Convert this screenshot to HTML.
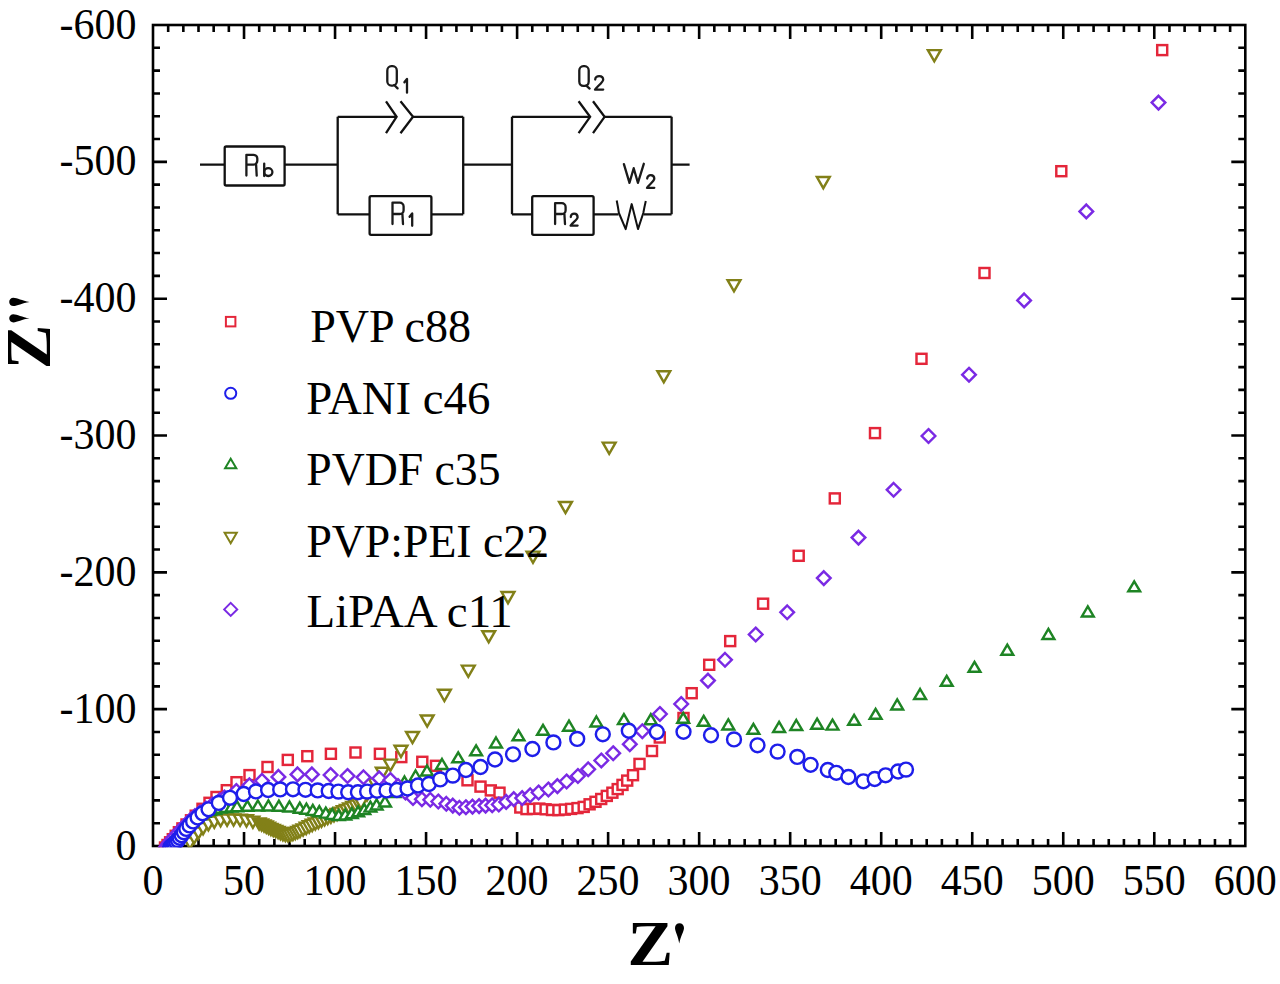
<!DOCTYPE html>
<html><head><meta charset="utf-8"><style>
html,body{margin:0;padding:0;background:#fff;}
svg{display:block;}
</style></head><body>
<svg width="1280" height="984" viewBox="0 0 1280 984">
<rect width="1280" height="984" fill="#fff"/>
<defs><clipPath id="pc"><rect x="151.7" y="23.71999999999998" width="1094.8999999999999" height="823.58"/></clipPath></defs>
<rect x="153.0" y="25.0" width="1092.3" height="821.0" fill="none" stroke="#000" stroke-width="2.6"/><path d="M168.17 846.00v-7.0M168.17 25.02v7.0M183.34 846.00v-7.0M183.34 25.02v7.0M198.51 846.00v-7.0M198.51 25.02v7.0M213.68 846.00v-7.0M213.68 25.02v7.0M228.85 846.00v-7.0M228.85 25.02v7.0M244.03 846.00v-14.0M244.03 25.02v14.0M259.20 846.00v-7.0M259.20 25.02v7.0M274.37 846.00v-7.0M274.37 25.02v7.0M289.54 846.00v-7.0M289.54 25.02v7.0M304.71 846.00v-7.0M304.71 25.02v7.0M319.88 846.00v-7.0M319.88 25.02v7.0M335.05 846.00v-14.0M335.05 25.02v14.0M350.22 846.00v-7.0M350.22 25.02v7.0M365.39 846.00v-7.0M365.39 25.02v7.0M380.56 846.00v-7.0M380.56 25.02v7.0M395.73 846.00v-7.0M395.73 25.02v7.0M410.90 846.00v-7.0M410.90 25.02v7.0M426.07 846.00v-14.0M426.07 25.02v14.0M441.25 846.00v-7.0M441.25 25.02v7.0M456.42 846.00v-7.0M456.42 25.02v7.0M471.59 846.00v-7.0M471.59 25.02v7.0M486.76 846.00v-7.0M486.76 25.02v7.0M501.93 846.00v-7.0M501.93 25.02v7.0M517.10 846.00v-14.0M517.10 25.02v14.0M532.27 846.00v-7.0M532.27 25.02v7.0M547.44 846.00v-7.0M547.44 25.02v7.0M562.61 846.00v-7.0M562.61 25.02v7.0M577.78 846.00v-7.0M577.78 25.02v7.0M592.95 846.00v-7.0M592.95 25.02v7.0M608.12 846.00v-14.0M608.12 25.02v14.0M623.30 846.00v-7.0M623.30 25.02v7.0M638.47 846.00v-7.0M638.47 25.02v7.0M653.64 846.00v-7.0M653.64 25.02v7.0M668.81 846.00v-7.0M668.81 25.02v7.0M683.98 846.00v-7.0M683.98 25.02v7.0M699.15 846.00v-14.0M699.15 25.02v14.0M714.32 846.00v-7.0M714.32 25.02v7.0M729.49 846.00v-7.0M729.49 25.02v7.0M744.66 846.00v-7.0M744.66 25.02v7.0M759.83 846.00v-7.0M759.83 25.02v7.0M775.00 846.00v-7.0M775.00 25.02v7.0M790.17 846.00v-14.0M790.17 25.02v14.0M805.35 846.00v-7.0M805.35 25.02v7.0M820.52 846.00v-7.0M820.52 25.02v7.0M835.69 846.00v-7.0M835.69 25.02v7.0M850.86 846.00v-7.0M850.86 25.02v7.0M866.03 846.00v-7.0M866.03 25.02v7.0M881.20 846.00v-14.0M881.20 25.02v14.0M896.37 846.00v-7.0M896.37 25.02v7.0M911.54 846.00v-7.0M911.54 25.02v7.0M926.71 846.00v-7.0M926.71 25.02v7.0M941.88 846.00v-7.0M941.88 25.02v7.0M957.05 846.00v-7.0M957.05 25.02v7.0M972.23 846.00v-14.0M972.23 25.02v14.0M987.40 846.00v-7.0M987.40 25.02v7.0M1002.57 846.00v-7.0M1002.57 25.02v7.0M1017.74 846.00v-7.0M1017.74 25.02v7.0M1032.91 846.00v-7.0M1032.91 25.02v7.0M1048.08 846.00v-7.0M1048.08 25.02v7.0M1063.25 846.00v-14.0M1063.25 25.02v14.0M1078.42 846.00v-7.0M1078.42 25.02v7.0M1093.59 846.00v-7.0M1093.59 25.02v7.0M1108.76 846.00v-7.0M1108.76 25.02v7.0M1123.93 846.00v-7.0M1123.93 25.02v7.0M1139.10 846.00v-7.0M1139.10 25.02v7.0M1154.28 846.00v-14.0M1154.28 25.02v14.0M1169.45 846.00v-7.0M1169.45 25.02v7.0M1184.62 846.00v-7.0M1184.62 25.02v7.0M1199.79 846.00v-7.0M1199.79 25.02v7.0M1214.96 846.00v-7.0M1214.96 25.02v7.0M1230.13 846.00v-7.0M1230.13 25.02v7.0M153.00 823.20h7.0M1245.30 823.20h-7.0M153.00 800.39h7.0M1245.30 800.39h-7.0M153.00 777.59h7.0M1245.30 777.59h-7.0M153.00 754.78h7.0M1245.30 754.78h-7.0M153.00 731.98h7.0M1245.30 731.98h-7.0M153.00 709.17h14.0M1245.30 709.17h-14.0M153.00 686.37h7.0M1245.30 686.37h-7.0M153.00 663.56h7.0M1245.30 663.56h-7.0M153.00 640.75h7.0M1245.30 640.75h-7.0M153.00 617.95h7.0M1245.30 617.95h-7.0M153.00 595.14h7.0M1245.30 595.14h-7.0M153.00 572.34h14.0M1245.30 572.34h-14.0M153.00 549.54h7.0M1245.30 549.54h-7.0M153.00 526.73h7.0M1245.30 526.73h-7.0M153.00 503.92h7.0M1245.30 503.92h-7.0M153.00 481.12h7.0M1245.30 481.12h-7.0M153.00 458.31h7.0M1245.30 458.31h-7.0M153.00 435.51h14.0M1245.30 435.51h-14.0M153.00 412.70h7.0M1245.30 412.70h-7.0M153.00 389.90h7.0M1245.30 389.90h-7.0M153.00 367.09h7.0M1245.30 367.09h-7.0M153.00 344.29h7.0M1245.30 344.29h-7.0M153.00 321.49h7.0M1245.30 321.49h-7.0M153.00 298.68h14.0M1245.30 298.68h-14.0M153.00 275.88h7.0M1245.30 275.88h-7.0M153.00 253.07h7.0M1245.30 253.07h-7.0M153.00 230.26h7.0M1245.30 230.26h-7.0M153.00 207.46h7.0M1245.30 207.46h-7.0M153.00 184.65h7.0M1245.30 184.65h-7.0M153.00 161.85h14.0M1245.30 161.85h-14.0M153.00 139.04h7.0M1245.30 139.04h-7.0M153.00 116.24h7.0M1245.30 116.24h-7.0M153.00 93.43h7.0M1245.30 93.43h-7.0M153.00 70.63h7.0M1245.30 70.63h-7.0M153.00 47.82h7.0M1245.30 47.82h-7.0" stroke="#000" stroke-width="2.6" fill="none"/>
<g clip-path="url(#pc)">
<g fill="#fff" stroke="#e4263a" stroke-width="2.45" stroke-linejoin="miter"><rect x="160.0" y="842.5" width="10.0" height="10.0"/><rect x="162.5" y="840.0" width="10.0" height="10.0"/><rect x="165.1" y="837.3" width="10.0" height="10.0"/><rect x="167.8" y="834.2" width="10.0" height="10.0"/><rect x="170.7" y="830.8" width="10.0" height="10.0"/><rect x="173.9" y="827.2" width="10.0" height="10.0"/><rect x="177.4" y="823.4" width="10.0" height="10.0"/><rect x="181.5" y="819.5" width="10.0" height="10.0"/><rect x="186.0" y="815.3" width="10.0" height="10.0"/><rect x="190.7" y="810.7" width="10.0" height="10.0"/><rect x="197.5" y="803.8" width="10.0" height="10.0"/><rect x="204.5" y="797.8" width="10.0" height="10.0"/><rect x="211.5" y="792.0" width="10.0" height="10.0"/><rect x="221.8" y="785.2" width="10.0" height="10.0"/><rect x="231.5" y="777.2" width="10.0" height="10.0"/><rect x="244.5" y="770.1" width="10.0" height="10.0"/><rect x="262.5" y="762.0" width="10.0" height="10.0"/><rect x="282.8" y="754.9" width="10.0" height="10.0"/><rect x="302.3" y="751.2" width="10.0" height="10.0"/><rect x="325.9" y="748.8" width="10.0" height="10.0"/><rect x="350.5" y="747.5" width="10.0" height="10.0"/><rect x="374.9" y="748.8" width="10.0" height="10.0"/><rect x="396.3" y="752.1" width="10.0" height="10.0"/><rect x="417.3" y="756.8" width="10.0" height="10.0"/><rect x="431.0" y="760.8" width="10.0" height="10.0"/><rect x="462.5" y="775.3" width="10.0" height="10.0"/><rect x="475.5" y="781.6" width="10.0" height="10.0"/><rect x="485.8" y="785.4" width="10.0" height="10.0"/><rect x="494.5" y="787.7" width="10.0" height="10.0"/><rect x="515.3" y="802.5" width="10.0" height="10.0"/><rect x="521.5" y="804.1" width="10.0" height="10.0"/><rect x="527.9" y="803.9" width="10.0" height="10.0"/><rect x="534.3" y="803.6" width="10.0" height="10.0"/><rect x="540.6" y="804.3" width="10.0" height="10.0"/><rect x="547.0" y="805.0" width="10.0" height="10.0"/><rect x="553.4" y="805.1" width="10.0" height="10.0"/><rect x="559.8" y="804.6" width="10.0" height="10.0"/><rect x="566.1" y="803.9" width="10.0" height="10.0"/><rect x="572.5" y="803.1" width="10.0" height="10.0"/><rect x="578.7" y="801.9" width="10.0" height="10.0"/><rect x="584.6" y="799.3" width="10.0" height="10.0"/><rect x="590.5" y="796.8" width="10.0" height="10.0"/><rect x="596.2" y="794.0" width="10.0" height="10.0"/><rect x="601.8" y="790.9" width="10.0" height="10.0"/><rect x="607.4" y="787.7" width="10.0" height="10.0"/><rect x="612.7" y="784.1" width="10.0" height="10.0"/><rect x="617.5" y="779.9" width="10.0" height="10.0"/><rect x="622.2" y="775.6" width="10.0" height="10.0"/><rect x="628.0" y="770.2" width="10.0" height="10.0"/><rect x="634.5" y="758.9" width="10.0" height="10.0"/><rect x="647.0" y="746.0" width="10.0" height="10.0"/><rect x="654.8" y="732.5" width="10.0" height="10.0"/><rect x="678.5" y="713.0" width="10.0" height="10.0"/><rect x="686.7" y="688.2" width="10.0" height="10.0"/><rect x="704.2" y="659.8" width="10.0" height="10.0"/><rect x="725.2" y="636.1" width="10.0" height="10.0"/><rect x="758.1" y="598.7" width="10.0" height="10.0"/><rect x="793.7" y="550.8" width="10.0" height="10.0"/><rect x="829.8" y="493.4" width="10.0" height="10.0"/><rect x="870.0" y="428.1" width="10.0" height="10.0"/><rect x="916.5" y="353.8" width="10.0" height="10.0"/><rect x="979.5" y="268.0" width="10.0" height="10.0"/><rect x="1056.3" y="166.2" width="10.0" height="10.0"/><rect x="1157.2" y="45.1" width="10.0" height="10.0"/></g>
<g fill="#fff" stroke="#828018" stroke-width="2.45" stroke-linejoin="miter"><path d="M183.6 837.4L196.4 837.4L190.0 848.6Z"/><path d="M187.7 832.3L200.5 832.3L194.1 843.5Z"/><path d="M192.0 827.5L204.8 827.5L198.4 838.7Z"/><path d="M196.7 823.0L209.5 823.0L203.1 834.2Z"/><path d="M202.0 819.2L214.8 819.2L208.4 830.4Z"/><path d="M207.9 816.6L220.7 816.6L214.3 827.8Z"/><path d="M214.2 815.1L227.0 815.1L220.6 826.3Z"/><path d="M220.7 814.5L233.5 814.5L227.1 825.7Z"/><path d="M227.2 814.4L240.0 814.4L233.6 825.6Z"/><path d="M233.7 814.7L246.5 814.7L240.1 825.9Z"/><path d="M240.1 815.3L252.9 815.3L246.5 826.5Z"/><path d="M246.5 816.6L259.3 816.6L252.9 827.8Z"/><path d="M252.7 818.4L265.5 818.4L259.1 829.6Z"/><path d="M255.2 819.4L268.0 819.4L261.6 830.6Z"/><path d="M257.6 820.4L270.4 820.4L264.0 831.6Z"/><path d="M259.9 821.5L272.7 821.5L266.3 832.7Z"/><path d="M262.2 822.7L275.0 822.7L268.6 833.9Z"/><path d="M264.5 823.9L277.3 823.9L270.9 835.1Z"/><path d="M266.9 824.9L279.7 824.9L273.3 836.1Z"/><path d="M269.3 825.9L282.1 825.9L275.7 837.1Z"/><path d="M271.7 826.9L284.5 826.9L278.1 838.1Z"/><path d="M274.1 828.0L286.9 828.0L280.5 839.2Z"/><path d="M276.5 829.0L289.3 829.0L282.9 840.2Z"/><path d="M279.0 829.8L291.8 829.8L285.4 841.0Z"/><path d="M281.5 830.2L294.3 830.2L287.9 841.4Z"/><path d="M284.1 829.9L296.9 829.9L290.5 841.1Z"/><path d="M286.5 828.9L299.3 828.9L292.9 840.1Z"/><path d="M288.9 827.9L301.7 827.9L295.3 839.1Z"/><path d="M291.3 826.9L304.1 826.9L297.7 838.1Z"/><path d="M293.6 825.8L306.4 825.8L300.0 837.0Z"/><path d="M296.7 824.4L309.5 824.4L303.1 835.6Z"/><path d="M299.8 822.8L312.6 822.8L306.2 834.0Z"/><path d="M302.8 821.3L315.6 821.3L309.2 832.5Z"/><path d="M305.8 819.8L318.6 819.8L312.2 831.0Z"/><path d="M308.9 818.4L321.7 818.4L315.3 829.6Z"/><path d="M312.0 817.0L324.8 817.0L318.4 828.2Z"/><path d="M315.1 815.6L327.9 815.6L321.5 826.8Z"/><path d="M318.2 814.2L331.0 814.2L324.6 825.4Z"/><path d="M321.3 812.8L334.1 812.8L327.7 824.0Z"/><path d="M324.5 811.5L337.3 811.5L330.9 822.7Z"/><path d="M327.6 810.1L340.4 810.1L334.0 821.3Z"/><path d="M330.7 808.9L343.5 808.9L337.1 820.1Z"/><path d="M333.9 807.6L346.7 807.6L340.3 818.8Z"/><path d="M337.0 806.2L349.8 806.2L343.4 817.4Z"/><path d="M340.1 804.9L352.9 804.9L346.5 816.1Z"/><path d="M343.2 803.5L356.0 803.5L349.6 814.7Z"/><path d="M346.3 802.0L359.1 802.0L352.7 813.2Z"/><path d="M349.3 800.5L362.1 800.5L355.7 811.7Z"/><path d="M352.3 798.8L365.1 798.8L358.7 810.0Z"/><path d="M354.6 797.4L367.4 797.4L361.0 808.6Z"/><path d="M360.6 789.4L373.4 789.4L367.0 800.6Z"/><path d="M368.6 778.4L381.4 778.4L375.0 789.6Z"/><path d="M375.9 767.7L388.7 767.7L382.3 778.9Z"/><path d="M384.0 759.6L396.8 759.6L390.4 770.8Z"/><path d="M394.6 745.8L407.4 745.8L401.0 757.0Z"/><path d="M406.1 731.9L418.9 731.9L412.5 743.1Z"/><path d="M420.8 715.4L433.6 715.4L427.2 726.6Z"/><path d="M438.0 689.8L450.8 689.8L444.4 701.0Z"/><path d="M461.9 665.6L474.7 665.6L468.3 676.8Z"/><path d="M482.3 631.2L495.1 631.2L488.7 642.4Z"/><path d="M501.6 592.0L514.4 592.0L508.0 603.2Z"/><path d="M526.6 551.6L539.4 551.6L533.0 562.8Z"/><path d="M559.1 501.9L571.9 501.9L565.5 513.1Z"/><path d="M602.8 442.6L615.6 442.6L609.2 453.8Z"/><path d="M657.4 371.2L670.2 371.2L663.8 382.4Z"/><path d="M727.6 280.1L740.4 280.1L734.0 291.3Z"/><path d="M816.9 177.0L829.7 177.0L823.3 188.2Z"/><path d="M927.9 50.1L940.7 50.1L934.3 61.3Z"/></g>
<g fill="#fff" stroke="#1e8424" stroke-width="2.45" stroke-linejoin="miter"><path d="M170.0 841.5L175.9 851.5L164.1 851.5Z"/><path d="M173.4 837.2L179.3 847.2L167.5 847.2Z"/><path d="M176.9 832.9L182.8 842.9L171.0 842.9Z"/><path d="M180.4 828.7L186.3 838.7L174.5 838.7Z"/><path d="M183.9 824.4L189.8 834.4L178.0 834.4Z"/><path d="M187.4 820.2L193.3 830.2L181.5 830.2Z"/><path d="M191.3 816.3L197.2 826.3L185.4 826.3Z"/><path d="M195.3 812.5L201.2 822.5L189.4 822.5Z"/><path d="M199.7 809.2L205.6 819.2L193.8 819.2Z"/><path d="M204.6 806.8L210.5 816.8L198.7 816.8Z"/><path d="M209.8 805.1L215.7 815.1L203.9 815.1Z"/><path d="M215.1 803.7L221.0 813.7L209.2 813.7Z"/><path d="M220.5 802.6L226.4 812.6L214.6 812.6Z"/><path d="M226.0 801.9L231.9 811.9L220.1 811.9Z"/><path d="M231.5 801.5L237.4 811.5L225.6 811.5Z"/><path d="M237.0 801.2L242.9 811.2L231.1 811.2Z"/><path d="M247.4 800.8L253.3 810.8L241.5 810.8Z"/><path d="M257.9 800.5L263.8 810.5L252.0 810.5Z"/><path d="M268.4 800.4L274.3 810.4L262.5 810.4Z"/><path d="M278.9 800.7L284.8 810.7L273.0 810.7Z"/><path d="M289.4 801.4L295.3 811.4L283.5 811.4Z"/><path d="M299.8 802.7L305.7 812.7L293.9 812.7Z"/><path d="M306.4 803.7L312.3 813.7L300.5 813.7Z"/><path d="M312.8 804.9L318.7 814.9L306.9 814.9Z"/><path d="M319.3 806.2L325.2 816.2L313.4 816.2Z"/><path d="M325.8 807.6L331.7 817.6L319.9 817.6Z"/><path d="M332.2 808.9L338.1 818.9L326.3 818.9Z"/><path d="M338.7 810.0L344.6 820.0L332.8 820.0Z"/><path d="M345.3 809.5L351.2 819.5L339.4 819.5Z"/><path d="M351.8 808.1L357.7 818.1L345.9 818.1Z"/><path d="M358.1 806.3L364.0 816.3L352.2 816.3Z"/><path d="M364.3 804.1L370.2 814.1L358.4 814.1Z"/><path d="M370.4 801.6L376.3 811.6L364.5 811.6Z"/><path d="M376.6 799.4L382.5 809.4L370.7 809.4Z"/><path d="M385.0 796.5L390.9 806.5L379.1 806.5Z"/><path d="M394.5 787.0L400.4 797.0L388.6 797.0Z"/><path d="M404.5 776.5L410.4 786.5L398.6 786.5Z"/><path d="M415.6 770.5L421.5 780.5L409.7 780.5Z"/><path d="M427.0 765.5L432.9 775.5L421.1 775.5Z"/><path d="M442.0 759.0L447.9 769.0L436.1 769.0Z"/><path d="M458.2 752.3L464.1 762.3L452.3 762.3Z"/><path d="M476.1 745.3L482.0 755.3L470.2 755.3Z"/><path d="M496.0 737.5L501.9 747.5L490.1 747.5Z"/><path d="M518.5 730.3L524.4 740.3L512.6 740.3Z"/><path d="M543.0 724.8L548.9 734.8L537.1 734.8Z"/><path d="M569.0 720.7L574.9 730.7L563.1 730.7Z"/><path d="M596.4 716.5L602.3 726.5L590.5 726.5Z"/><path d="M623.9 714.1L629.8 724.1L618.0 724.1Z"/><path d="M650.8 714.2L656.7 724.2L644.9 724.2Z"/><path d="M683.2 712.8L689.1 722.8L677.3 722.8Z"/><path d="M703.7 715.8L709.6 725.8L697.8 725.8Z"/><path d="M728.3 719.4L734.2 729.4L722.4 729.4Z"/><path d="M753.4 723.8L759.3 733.8L747.5 733.8Z"/><path d="M779.1 721.9L785.0 731.9L773.2 731.9Z"/><path d="M796.3 720.0L802.2 730.0L790.4 730.0Z"/><path d="M817.1 718.7L823.0 728.7L811.2 728.7Z"/><path d="M832.5 719.6L838.4 729.6L826.6 729.6Z"/><path d="M854.1 714.8L860.0 724.8L848.2 724.8Z"/><path d="M875.6 708.8L881.5 718.8L869.7 718.8Z"/><path d="M897.2 699.4L903.1 709.4L891.3 709.4Z"/><path d="M920.1 689.0L926.0 699.0L914.2 699.0Z"/><path d="M946.7 675.8L952.6 685.8L940.8 685.8Z"/><path d="M974.5 661.8L980.4 671.8L968.6 671.8Z"/><path d="M1007.3 644.7L1013.2 654.7L1001.4 654.7Z"/><path d="M1048.4 628.9L1054.3 638.9L1042.5 638.9Z"/><path d="M1087.8 606.4L1093.7 616.4L1081.9 616.4Z"/><path d="M1134.2 581.3L1140.1 591.3L1128.3 591.3Z"/></g>
<g fill="#fff" stroke="#7a2ae4" stroke-width="2.45" stroke-linejoin="miter"><path d="M166.0 840.2L172.8 847.0L166.0 853.8L159.2 847.0Z"/><path d="M167.5 838.2L174.3 845.0L167.5 851.8L160.7 845.0Z"/><path d="M169.1 836.1L175.9 842.9L169.1 849.7L162.3 842.9Z"/><path d="M171.0 833.9L177.8 840.7L171.0 847.5L164.2 840.7Z"/><path d="M173.1 831.5L179.9 838.3L173.1 845.1L166.3 838.3Z"/><path d="M175.4 829.0L182.2 835.8L175.4 842.6L168.6 835.8Z"/><path d="M177.9 826.2L184.7 833.0L177.9 839.8L171.1 833.0Z"/><path d="M180.6 823.2L187.4 830.0L180.6 836.8L173.8 830.0Z"/><path d="M183.6 820.0L190.4 826.8L183.6 833.6L176.8 826.8Z"/><path d="M187.0 816.7L193.8 823.5L187.0 830.3L180.2 823.5Z"/><path d="M190.7 813.0L197.5 819.8L190.7 826.6L183.9 819.8Z"/><path d="M195.0 809.3L201.8 816.1L195.0 822.9L188.2 816.1Z"/><path d="M200.1 805.6L206.9 812.4L200.1 819.2L193.3 812.4Z"/><path d="M205.9 801.8L212.7 808.6L205.9 815.4L199.1 808.6Z"/><path d="M212.4 797.8L219.2 804.6L212.4 811.4L205.6 804.6Z"/><path d="M219.7 793.5L226.5 800.3L219.7 807.1L212.9 800.3Z"/><path d="M224.4 790.7L231.2 797.5L224.4 804.3L217.6 797.5Z"/><path d="M236.3 784.2L243.1 791.0L236.3 797.8L229.5 791.0Z"/><path d="M249.4 778.5L256.2 785.3L249.4 792.1L242.6 785.3Z"/><path d="M262.0 774.0L268.8 780.8L262.0 787.6L255.2 780.8Z"/><path d="M278.4 770.1L285.2 776.9L278.4 783.7L271.6 776.9Z"/><path d="M297.5 767.6L304.3 774.4L297.5 781.2L290.7 774.4Z"/><path d="M311.9 767.6L318.7 774.4L311.9 781.2L305.1 774.4Z"/><path d="M330.6 768.2L337.4 775.0L330.6 781.8L323.8 775.0Z"/><path d="M347.5 769.2L354.3 776.0L347.5 782.8L340.7 776.0Z"/><path d="M363.5 770.5L370.3 777.3L363.5 784.1L356.7 777.3Z"/><path d="M379.2 771.6L386.0 778.4L379.2 785.2L372.4 778.4Z"/><path d="M390.4 773.2L397.2 780.0L390.4 786.8L383.6 780.0Z"/><path d="M398.0 779.2L404.8 786.0L398.0 792.8L391.2 786.0Z"/><path d="M405.5 785.7L412.3 792.5L405.5 799.3L398.7 792.5Z"/><path d="M413.0 791.2L419.8 798.0L413.0 804.8L406.2 798.0Z"/><path d="M421.9 792.4L428.7 799.2L421.9 806.0L415.1 799.2Z"/><path d="M430.3 793.0L437.1 799.8L430.3 806.6L423.5 799.8Z"/><path d="M438.3 794.7L445.1 801.5L438.3 808.3L431.5 801.5Z"/><path d="M446.3 797.0L453.1 803.8L446.3 810.6L439.5 803.8Z"/><path d="M452.8 798.8L459.6 805.6L452.8 812.4L446.0 805.6Z"/><path d="M459.4 801.0L466.2 807.8L459.4 814.6L452.6 807.8Z"/><path d="M465.9 800.4L472.7 807.2L465.9 814.0L459.1 807.2Z"/><path d="M472.5 799.8L479.3 806.6L472.5 813.4L465.7 806.6Z"/><path d="M479.1 799.3L485.9 806.1L479.1 812.9L472.3 806.1Z"/><path d="M485.6 798.8L492.4 805.6L485.6 812.4L478.8 805.6Z"/><path d="M492.2 798.5L499.0 805.3L492.2 812.1L485.4 805.3Z"/><path d="M498.8 797.7L505.6 804.5L498.8 811.3L492.0 804.5Z"/><path d="M506.2 795.1L513.0 801.9L506.2 808.7L499.4 801.9Z"/><path d="M513.8 792.3L520.6 799.1L513.8 805.9L507.0 799.1Z"/><path d="M522.2 791.3L529.0 798.1L522.2 804.9L515.4 798.1Z"/><path d="M530.2 788.5L537.0 795.3L530.2 802.1L523.4 795.3Z"/><path d="M538.6 785.7L545.4 792.5L538.6 799.3L531.8 792.5Z"/><path d="M548.4 782.7L555.2 789.5L548.4 796.3L541.6 789.5Z"/><path d="M557.4 779.3L564.2 786.1L557.4 792.9L550.6 786.1Z"/><path d="M566.6 774.7L573.4 781.5L566.6 788.3L559.8 781.5Z"/><path d="M577.9 769.2L584.7 776.0L577.9 782.8L571.1 776.0Z"/><path d="M588.2 762.5L595.0 769.3L588.2 776.1L581.4 769.3Z"/><path d="M601.3 753.7L608.1 760.5L601.3 767.3L594.5 760.5Z"/><path d="M613.2 746.4L620.0 753.2L613.2 760.0L606.4 753.2Z"/><path d="M629.8 737.4L636.6 744.2L629.8 751.0L623.0 744.2Z"/><path d="M642.3 724.4L649.1 731.2L642.3 738.0L635.5 731.2Z"/><path d="M659.9 707.2L666.7 714.0L659.9 720.8L653.1 714.0Z"/><path d="M681.2 697.2L688.0 704.0L681.2 710.8L674.4 704.0Z"/><path d="M708.0 673.8L714.8 680.6L708.0 687.4L701.2 680.6Z"/><path d="M725.0 653.0L731.8 659.8L725.0 666.6L718.2 659.8Z"/><path d="M755.7 627.7L762.5 634.5L755.7 641.3L748.9 634.5Z"/><path d="M787.2 605.5L794.0 612.3L787.2 619.1L780.4 612.3Z"/><path d="M823.8 571.3L830.6 578.1L823.8 584.9L817.0 578.1Z"/><path d="M858.5 530.8L865.3 537.6L858.5 544.4L851.7 537.6Z"/><path d="M893.6 483.0L900.4 489.8L893.6 496.6L886.8 489.8Z"/><path d="M928.5 429.2L935.3 436.0L928.5 442.8L921.7 436.0Z"/><path d="M969.0 367.9L975.8 374.7L969.0 381.5L962.2 374.7Z"/><path d="M1024.1 293.6L1030.9 300.4L1024.1 307.2L1017.3 300.4Z"/><path d="M1086.3 204.6L1093.1 211.4L1086.3 218.2L1079.5 211.4Z"/><path d="M1158.5 95.8L1165.3 102.6L1158.5 109.4L1151.7 102.6Z"/></g>
<g fill="#fff" stroke="#1e1eea" stroke-width="2.45" stroke-linejoin="miter"><circle cx="170.0" cy="847.5" r="6.95"/><circle cx="171.4" cy="846.3" r="6.95"/><circle cx="172.9" cy="845.1" r="6.95"/><circle cx="174.5" cy="843.6" r="6.95"/><circle cx="176.1" cy="841.9" r="6.95"/><circle cx="177.8" cy="840.1" r="6.95"/><circle cx="179.6" cy="837.8" r="6.95"/><circle cx="181.6" cy="835.2" r="6.95"/><circle cx="183.8" cy="832.2" r="6.95"/><circle cx="186.3" cy="828.9" r="6.95"/><circle cx="189.5" cy="825.4" r="6.95"/><circle cx="193.1" cy="821.4" r="6.95"/><circle cx="197.6" cy="817.5" r="6.95"/><circle cx="202.5" cy="813.3" r="6.95"/><circle cx="208.5" cy="809.3" r="6.95"/><circle cx="218.8" cy="802.9" r="6.95"/><circle cx="230.0" cy="797.8" r="6.95"/><circle cx="243.7" cy="794.0" r="6.95"/><circle cx="256.0" cy="791.4" r="6.95"/><circle cx="268.1" cy="790.0" r="6.95"/><circle cx="280.2" cy="789.4" r="6.95"/><circle cx="293.0" cy="789.3" r="6.95"/><circle cx="305.5" cy="789.8" r="6.95"/><circle cx="317.7" cy="790.4" r="6.95"/><circle cx="328.7" cy="791.0" r="6.95"/><circle cx="338.4" cy="791.6" r="6.95"/><circle cx="348.2" cy="792.2" r="6.95"/><circle cx="357.9" cy="792.2" r="6.95"/><circle cx="367.1" cy="791.6" r="6.95"/><circle cx="377.0" cy="790.8" r="6.95"/><circle cx="386.5" cy="790.4" r="6.95"/><circle cx="396.9" cy="790.0" r="6.95"/><circle cx="407.5" cy="788.4" r="6.95"/><circle cx="418.0" cy="785.5" r="6.95"/><circle cx="428.9" cy="784.0" r="6.95"/><circle cx="440.2" cy="779.4" r="6.95"/><circle cx="452.8" cy="775.6" r="6.95"/><circle cx="465.9" cy="770.0" r="6.95"/><circle cx="480.5" cy="767.0" r="6.95"/><circle cx="495.0" cy="759.5" r="6.95"/><circle cx="513.0" cy="754.3" r="6.95"/><circle cx="532.4" cy="749.0" r="6.95"/><circle cx="553.4" cy="742.4" r="6.95"/><circle cx="577.2" cy="738.9" r="6.95"/><circle cx="602.8" cy="734.3" r="6.95"/><circle cx="628.8" cy="730.7" r="6.95"/><circle cx="656.8" cy="732.0" r="6.95"/><circle cx="683.5" cy="731.8" r="6.95"/><circle cx="711.0" cy="735.2" r="6.95"/><circle cx="734.0" cy="739.4" r="6.95"/><circle cx="757.5" cy="745.3" r="6.95"/><circle cx="777.6" cy="751.6" r="6.95"/><circle cx="797.3" cy="756.9" r="6.95"/><circle cx="810.6" cy="764.8" r="6.95"/><circle cx="827.8" cy="770.0" r="6.95"/><circle cx="836.3" cy="772.8" r="6.95"/><circle cx="848.4" cy="777.0" r="6.95"/><circle cx="863.4" cy="781.3" r="6.95"/><circle cx="874.7" cy="779.0" r="6.95"/><circle cx="885.6" cy="775.3" r="6.95"/><circle cx="898.1" cy="771.5" r="6.95"/><circle cx="906.0" cy="769.6" r="6.95"/></g>

</g>
<g font-family='"Liberation Serif", serif' font-size="42" fill="#000"><text transform="translate(153.0 895.1) scale(1 1.078)" text-anchor="middle">0</text><text transform="translate(244.0 895.1) scale(1 1.078)" text-anchor="middle">50</text><text transform="translate(335.1 895.1) scale(1 1.078)" text-anchor="middle">100</text><text transform="translate(426.1 895.1) scale(1 1.078)" text-anchor="middle">150</text><text transform="translate(517.1 895.1) scale(1 1.078)" text-anchor="middle">200</text><text transform="translate(608.1 895.1) scale(1 1.078)" text-anchor="middle">250</text><text transform="translate(699.1 895.1) scale(1 1.078)" text-anchor="middle">300</text><text transform="translate(790.2 895.1) scale(1 1.078)" text-anchor="middle">350</text><text transform="translate(881.2 895.1) scale(1 1.078)" text-anchor="middle">400</text><text transform="translate(972.2 895.1) scale(1 1.078)" text-anchor="middle">450</text><text transform="translate(1063.2 895.1) scale(1 1.078)" text-anchor="middle">500</text><text transform="translate(1154.3 895.1) scale(1 1.078)" text-anchor="middle">550</text><text transform="translate(1245.3 895.1) scale(1 1.078)" text-anchor="middle">600</text><text transform="translate(136.4 859.5) scale(1 1.05)" text-anchor="end">0</text><text transform="translate(136.4 722.7) scale(1 1.05)" text-anchor="end">-100</text><text transform="translate(136.4 585.8) scale(1 1.05)" text-anchor="end">-200</text><text transform="translate(136.4 449.0) scale(1 1.05)" text-anchor="end">-300</text><text transform="translate(136.4 312.2) scale(1 1.05)" text-anchor="end">-400</text><text transform="translate(136.4 175.3) scale(1 1.05)" text-anchor="end">-500</text><text transform="translate(136.4 38.5) scale(1 1.05)" text-anchor="end">-600</text></g>
<text transform="translate(627.4 965.2) scale(1.07 0.985)" font-family='"Liberation Serif", serif' font-weight="bold" font-size="64">Z</text>
<text transform="translate(50.3 369.3) rotate(-90) scale(1.06 0.99)" font-family='"Liberation Serif", serif' font-weight="bold" font-size="63">Z</text>
<path d="M679.2 943.6C678.2 936 675 931.5 675 928C675 925.3 677 923.3 679.5 923.3C682 923.3 684 925.3 684 928C684 931.5 680.6 936 679.2 943.6Z"/>
<path d="M29.6 301.9C22 300.9 17.2 297.8 13.4 297.8C11 297.8 9.2 299.7 9.2 301.9C9.2 304.1 11 306 13.4 306C17.2 306 22 302.9 29.6 301.9Z"/>
<path d="M29.6 318.3C22 317.3 17.2 314.2 13.4 314.2C11 314.2 9.2 316.1 9.2 318.3C9.2 320.5 11 322.4 13.4 322.4C17.2 322.4 22 319.3 29.6 318.3Z"/>
<g fill="#fff" stroke="#e4263a" stroke-width="2.0" stroke-linejoin="miter"><rect x="225.9" y="316.9" width="9.5" height="9.5"/></g>
<text transform="translate(310.20 341.7) scale(0.998 1)" font-family='"Liberation Serif", serif' font-size="46.2">PVP c88</text><g fill="#fff" stroke="#1e1eea" stroke-width="2.0" stroke-linejoin="miter"><circle cx="230.7" cy="393.3" r="5.56"/></g>
<text transform="translate(306.18 413.9) scale(1.013 1)" font-family='"Liberation Serif", serif' font-size="46.2">PANI c46</text><g fill="#fff" stroke="#1e8424" stroke-width="2.0" stroke-linejoin="miter"><path d="M230.7 458.8L236.3 468.2L225.1 468.2Z"/></g>
<text transform="translate(306.22 485.2) scale(0.99 1)" font-family='"Liberation Serif", serif' font-size="46.2">PVDF c35</text><g fill="#fff" stroke="#828018" stroke-width="2.0" stroke-linejoin="miter"><path d="M224.6 532.7L236.8 532.7L230.7 543.3Z"/></g>
<text transform="translate(306.42 556.9000000000001) scale(0.99 1)" font-family='"Liberation Serif", serif' font-size="46.2">PVP:PEI c22</text><g fill="#fff" stroke="#7a2ae4" stroke-width="2.0" stroke-linejoin="miter"><path d="M230.7 602.9L237.2 609.4L230.7 615.9L224.2 609.4Z"/></g>
<text transform="translate(306.57 627.2) scale(1.015 1)" font-family='"Liberation Serif", serif' font-size="46.2">LiPAA c11</text>
<g fill="none" stroke="#111" stroke-width="2.3" stroke-linecap="butt">
<path d="M200 164.7H224.7M284.6 164.7H337.7M337.7 116.8V214.3M337.7 116.8H396.6M413 116.8H463.2M463.2 116.8V214.3
M337.7 214.3H369.6M431.4 214.3H463.2M463.2 164.7H512M512 116.8V214.3M512 116.8H590.1M604.6 116.8H671.6M671.6 116.8V214.3
M671.6 164.7H689.6M512 214.3H532.2M593.6 214.3H618.5M643.6 214.3H671.6"/>
<rect x="224.7" y="146.5" width="59.9" height="39" rx="1.5"/>
<rect x="369.6" y="196.2" width="61.8" height="38.6" rx="1.5"/>
<rect x="532.2" y="196.2" width="61.4" height="38.6" rx="1.5"/>
<path d="M386 101.3L396.6 116.8L386 133.2M400.5 101.3L413 116.8L400.5 133.2"/>
<path d="M578.6 101.3L590.1 116.8L578.6 133.2M593 101.3L604.6 116.8L593 133.2"/>
<path d="M616.7 200.5Q618 207 618.9 213L625.7 229.1L631.7 204.1L638 229.1L643.3 213Q644.4 207 645.8 201" stroke-linejoin="round" stroke-width="2"/>
</g>
<g fill="none" stroke="#1a1a1a" stroke-width="2.3" stroke-linecap="round" stroke-linejoin="round"><path d="M246.4 175.6V154.8H253.5A3.8 3.8 0 0 1 257.3 158.60000000000002V160.79999999999998A3.8 3.8 0 0 1 253.5 164.6H246.4M256.1 164.6L256.7 175.6"/><path d="M264.2 163.6V176.0"/><ellipse cx="268.29999999999995" cy="172.1" rx="4.099999999999994" ry="3.9000000000000057"/><rect x="387.3" y="66.2" width="9.5" height="19.39999999999999" rx="4.04" ry="4.44"/><path d="M394.2 85.0L397.6 88.4"/><path d="M404.4 82.30000000000001L407.0 78.9V92.7"/><rect x="579.3" y="66.2" width="9.400000000000091" height="19.700000000000003" rx="4.00" ry="4.39"/><path d="M586.3 85.6L589.6 88.6"/><path d="M595.2 79.5C595.2 74.9 603.2 74.9 603.2 79.7C603.2 82.0 597.0 86.6 595.0 89.6H603.2"/><path d="M392.5 224.0V202.6H399.8A3.8 3.8 0 0 1 403.6 206.4V210.2A3.8 3.8 0 0 1 399.8 214.0H392.5M402.40000000000003 214.0L403.0 224.0"/><path d="M409.59999999999997 216.8L412.2 213.4V225.8"/><path d="M555.1 224.0V203.2H561.8000000000001A3.8 3.8 0 0 1 565.6 207.0V210.2A3.8 3.8 0 0 1 561.8000000000001 214.0H555.1M564.4 214.0L565.0 224.0"/><path d="M570.8000000000001 217.0C570.8000000000001 212.4 577.6 212.4 577.6 217.2C577.6 219.5 572.6 222.6 570.6 225.6H577.6"/><path d="M623.9 164.2L629.5 182.8L633.7 168.2L637.9 182.8L643.8 163.8"/><path d="M647.2 178.6C647.2 174.0 654.3 174.0 654.3 178.79999999999998C654.3 181.1 649.0 184.8 647.0 187.8H654.3"/></g>
</svg>
</body></html>
